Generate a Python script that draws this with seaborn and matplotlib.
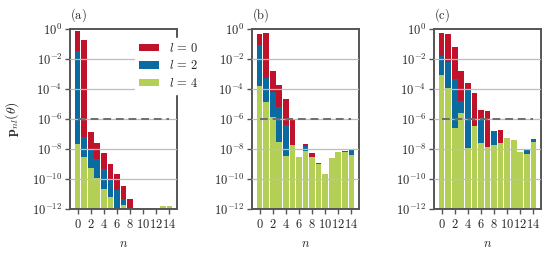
import numpy as np
import pandas as pd
import matplotlib
matplotlib.use("Agg")
import matplotlib.pyplot as plt
import seaborn as sns
from matplotlib.patches import Patch

nan = np.nan
n_values = list(range(15))
l_values = [0, 2, 4]

# log10 of p_nl for each panel / l (NaN = hidden / below axis)
a_l0 = [-0.09, -0.71, -6.83, -7.56, -8.27, -8.98, -9.67, -10.45, -11.33, -11.9, nan, nan, nan, nan, nan]
a_l2 = [-1.43, -7.16, -7.95, -8.67, -9.31, -10.0, -10.71, -11.33, nan, nan, nan, nan, nan, nan, nan]
a_l4 = [-7.62, -8.53, -9.27, -9.93, -10.65, -11.16, nan, -11.71, nan, nan, nan, nan, nan, -11.76, -11.76]

b_l0 = [-0.33, -0.22, -2.78, -3.71, -4.67, -6.0, nan, -7.67, -8.22, nan, nan, nan, nan, nan, nan]
b_l2 = [-1.04, -3.22, -4.2, -5.2, -6.38, nan, nan, -7.8, nan, -8.93, nan, nan, nan, -8.09, -7.98]
b_l4 = [-3.78, -4.87, -5.87, -7.49, -8.44, -7.71, -8.49, -8.09, -8.49, -9.0, -9.67, -8.6, -8.16, -8.16, -8.38]

c_l0 = [-0.27, -0.31, -1.2, -2.78, -3.6, -4.27, -5.38, -5.44, nan, -6.71, nan, nan, nan, nan, nan]
c_l2 = [-1.76, -2.16, -3.31, -4.76, -4.04, nan, -6.04, nan, -6.76, nan, nan, nan, nan, -8.04, -7.33]
c_l4 = [-3.04, -3.93, -6.6, -5.56, -7.93, -6.44, -7.56, -7.82, -7.71, -7.56, -7.27, -7.38, -8.16, -8.31, -7.49]

panel_labels = ["(a)", "(b)", "(c)"]
x_ticks = [0, 2, 4, 6, 8, 10, 12, 14]
y_ticks_exp = [0, -2, -4, -6, -8, -10, -12]
threshold = 1e-6

panels = [(a_l0, a_l2, a_l4), (b_l0, b_l2, b_l4), (c_l0, c_l2, c_l4)]

colors = {0: "#C0122B", 2: "#0A6BA0", 4: "#B4CF55"}

sns.set_theme(style="white")
plt.rcParams["mathtext.fontset"] = "cm"
plt.rcParams["font.family"] = ["DejaVu Serif"]
plt.rcParams["axes.unicode_minus"] = False

fig = plt.figure(figsize=(5.51, 2.57), dpi=100)
lefts = [70 / 551, 252 / 551, 434 / 551]
W = 107 / 551
B = 47.7 / 257
H = 180 / 257

spine_col = "#555555"

for i, (vals, lab) in enumerate(zip(panels, panel_labels)):
    ax = fig.add_axes([lefts[i], B, W, H])
    rows = []
    for l, arr in zip(l_values, vals):
        for n, e in zip(n_values, arr):
            rows.append({"n": n, "l": l, "p": 10.0 ** e if not np.isnan(e) else nan})
    df = pd.DataFrame(rows)
    sns.barplot(data=df, x="n", y="p", hue="l", hue_order=l_values, order=n_values,
                palette=colors, dodge=False, width=0.86, errorbar=None,
                saturation=1, legend=False, ax=ax, linewidth=0)
    ax.set_yscale("log")
    ax.set_ylim(1e-12, 1)
    ax.set_xlim(-1.15, 15.15)
    for e in [-2, -4, -6, -8, -10]:
        ax.axhline(10.0 ** e, color="#bdbdbd", lw=0.9, zorder=3)
    ax.hlines(threshold, 0, 14, colors="#6e6e6e", linestyles=(0, (4, 2.5)), lw=1.4, zorder=4)
    ax.set_yticks([10.0 ** e for e in y_ticks_exp])
    ax.set_yticklabels([r"$10^{%d}$" % e for e in y_ticks_exp])
    ax.yaxis.set_minor_locator(matplotlib.ticker.NullLocator())
    ax.set_xticks(x_ticks)
    ax.set_xticklabels([r"$%d$" % t for t in x_ticks])
    ax.tick_params(axis="both", which="major", direction="out", length=3.5, width=1.0,
                   color=spine_col, labelsize=9, pad=2, left=True, bottom=True)
    ax.tick_params(axis="x", pad=3)
    for s in ax.spines.values():
        s.set_color(spine_col)
        s.set_linewidth(1.4)
        s.set_visible(True)
    ax.set_xlabel(r"$n$", fontsize=9, labelpad=4)
    ax.set_ylabel("")
    ax.set_title(r"$\mathrm{%s}$" % lab, loc="left", fontsize=9, pad=8)
    if i == 0:
        ax.set_ylabel(r"$\mathbf{p}_{nl}(\theta)$", fontsize=10, labelpad=8)
        handles = [Patch(facecolor=colors[l], edgecolor="none") for l in l_values]
        leg = ax.legend(handles, [r"$l\,=\,%d$" % l for l in l_values], loc="upper left",
                        bbox_to_anchor=(0.61, 0.95), frameon=True, framealpha=1,
                        facecolor="white", edgecolor="white", fontsize=9,
                        handlelength=1.6, handleheight=0.55, handletextpad=0.8,
                        labelspacing=0.35, borderpad=0.3, borderaxespad=0)
        leg.set_zorder(10)

fig.savefig("out.png", dpi=100)
